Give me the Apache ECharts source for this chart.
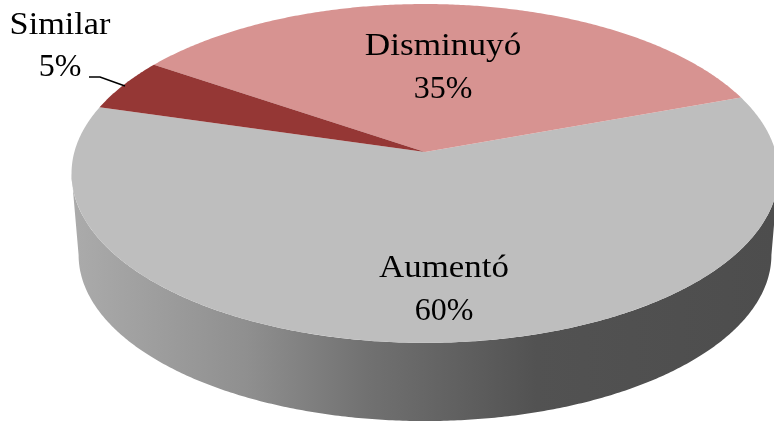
<!DOCTYPE html>
<html>
<head>
<meta charset="utf-8">
<script src="https://cdn.jsdelivr.net/npm/echarts@6/dist/echarts.min.js"></script>
<style>
    html, body { margin: 0; padding: 0; background: #fff; }
    #chart { width: 774px; height: 423px; }
</style>
</head>
<body>
<div id="chart"></div>
<script>
    var categories = ['Aumentó', 'Disminuyó', 'Similar'];
    var percents = [60, 35, 5];

    var colors = ['#bebebe', '#d79391', '#953735'];
    var labelFont = '"Liberation Serif", serif';
    // label anchor of each slice (centre x, first line y, second line y)
    var labelPlaces = [[444, 269, 312], [443, 47, 90], [60, 26, 68]];
    var nameStretch = [1.09, 1.1, 1.07];

    // perspective of the pie: d = viewer distance, f / ft = horizontal / vertical focal size
    var startAngle = 163.9;
    var d = 7.9, f = 2770, ft = 1317;
    var topFace = {x: 425, y: 152, k: 1};
    var bottomFace = {x: 425, y: 234, k: 0.98};

    function project(face, deg) {
        var a = deg * Math.PI / 180;
        var w = d + Math.sin(a);
        return [face.x + face.k * f * Math.cos(a) / w, face.y - face.k * ft * Math.sin(a) / w];
    }

    function arc(face, from, to) {
        var pts = [];
        var n = Math.ceil(Math.abs(to - from) * 2);
        for (var i = 0; i <= n; i++) {
            pts.push(project(face, from + (to - from) * i / n));
        }
        return pts;
    }

    function sliceAngles(index) {
        var before = 0;
        for (var i = 0; i < index; i++) before += percents[i];
        return [startAngle + before * 3.6, startAngle + (before + percents[index]) * 3.6];
    }

    function textEl(text, x, y, stretch) {
        return {
            type: 'text',
            x: x,
            y: y,
            scaleX: stretch,
            style: {
                text: text,
                x: 0,
                y: 0,
                fill: '#000',
                font: '32px ' + labelFont,
                align: 'center',
                verticalAlign: 'middle'
            }
        };
    }

    function renderSlice(params, api) {
        var i = params.dataIndex;
        var angles = sliceAngles(i);
        var children = [];

        // side wall only for the slice that covers the front of the pie
        if (angles[0] < 270 && angles[1] > 270) {
            var edge = Math.asin(1 / d) * 180 / Math.PI;
            var wall = arc(topFace, 180 + edge, 360 - edge).concat(arc(bottomFace, 360 - edge, 180 + edge));
            children.push({
                type: 'polygon',
                shape: {points: wall},
                style: {
                    fill: new echarts.graphic.LinearGradient(72, 0, 775, 0, [
                        {offset: 0, color: '#ababab'},
                        {offset: 0.25, color: '#8f8f8f'},
                        {offset: 0.42, color: '#717171'},
                        {offset: 0.66, color: '#525252'},
                        {offset: 1, color: '#4d4d4d'}
                    ], true)
                }
            });
        }

        children.push({
            type: 'polygon',
            shape: {points: [[topFace.x, topFace.y]].concat(arc(topFace, angles[0], angles[1]))},
            style: {fill: colors[i]}
        });

        return {type: 'group', children: children};
    }

    function renderLabel(params, api) {
        var i = params.dataIndex;
        var place = labelPlaces[i];
        var children = [
            textEl(categories[i], place[0], place[1], nameStretch[i]),
            textEl(api.value(0) + '%', place[0], place[2], 1)
        ];
        // leader line of the small slice
        if (i === 2) {
            children.push({
                type: 'polyline',
                shape: {points: [[89, 77], [100, 77], [125, 86]]},
                style: {fill: 'none', stroke: '#000', lineWidth: 1.6}
            });
        }
        return {type: 'group', children: children};
    }

    var chart = echarts.init(document.getElementById('chart'), null, {renderer: 'canvas'});
    chart.setOption({
        animation: false,
        series: [
            {type: 'custom', coordinateSystem: 'none', data: percents, renderItem: renderSlice, z: 1},
            {type: 'custom', coordinateSystem: 'none', data: percents, renderItem: renderLabel, z: 2}
        ]
    });
</script>
</body>
</html>
